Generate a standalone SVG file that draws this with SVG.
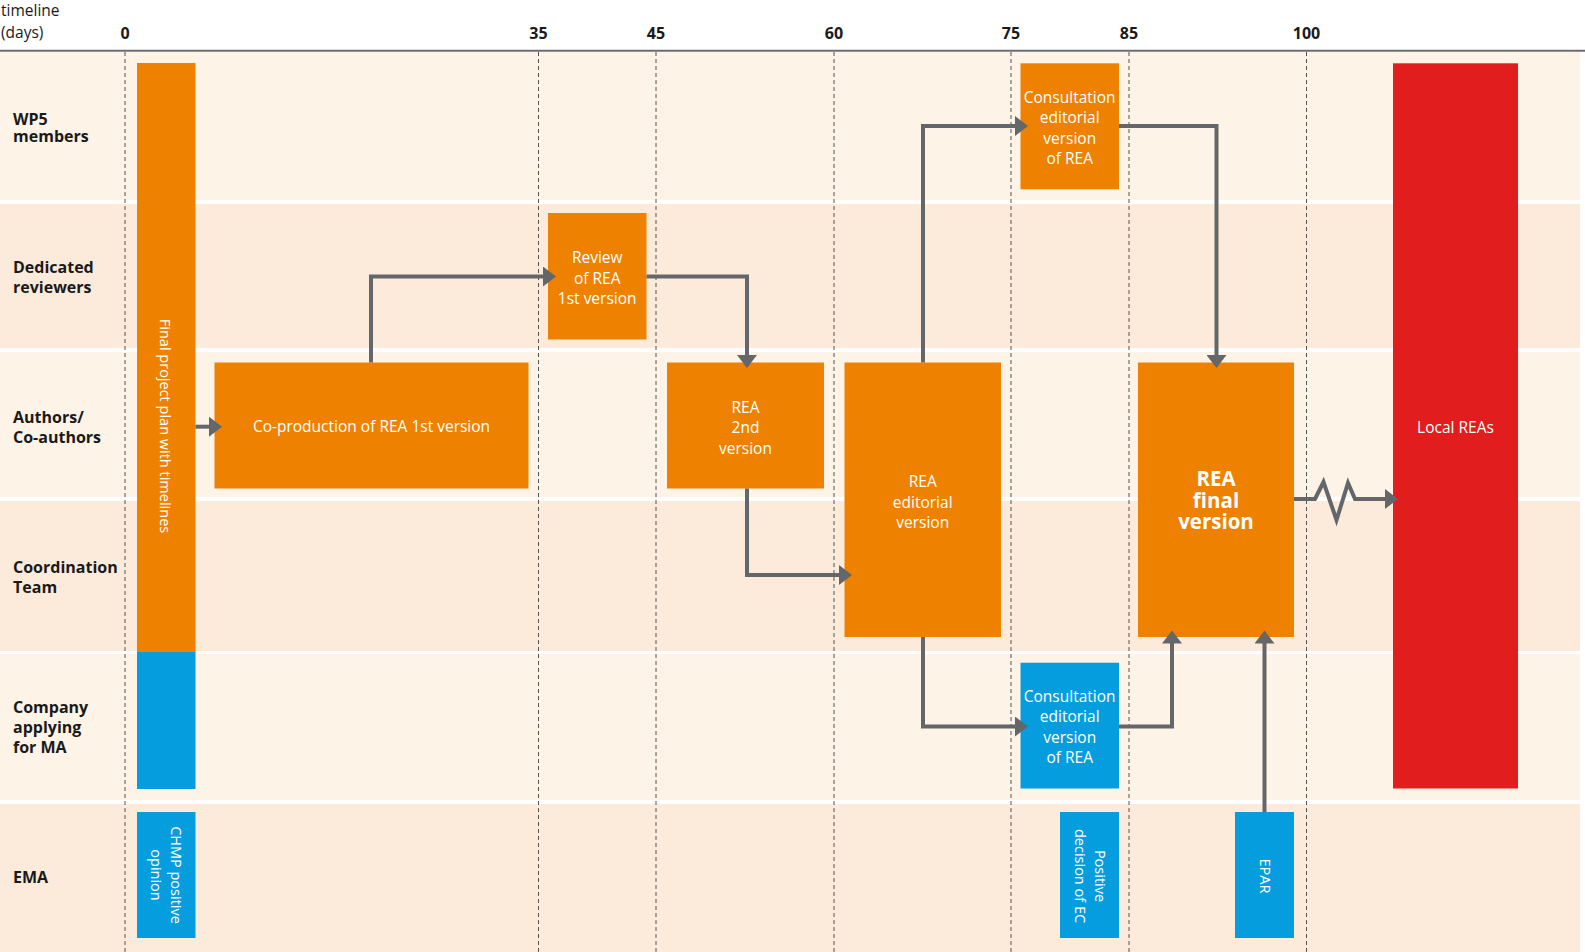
<svg xmlns="http://www.w3.org/2000/svg" width="1585" height="952" viewBox="0 0 1585 952">
<defs>
<style>
.bgL{fill:#fdf3e7}
.bgD{fill:#fcebda}
.lane{font-family:"Open Sans","Noto Sans",sans-serif;font-weight:bold;font-size:16px;fill:#1a1a1a}
.hdr{font-family:"Open Sans","Noto Sans",sans-serif;font-size:15.5px;fill:#1a1a1a}
.tick{font-family:"Open Sans","Noto Sans",sans-serif;font-weight:bold;font-size:16px;fill:#1a1a1a;text-anchor:middle}
.grid{stroke:#555;stroke-width:1;stroke-dasharray:4 3;fill:none}
.or{fill:#ee8200}
.bl{fill:#069ddf}
.rd{fill:#e21d1d}
.t{font-family:"Open Sans","Noto Sans",sans-serif;font-size:15.5px;fill:#fff;text-anchor:middle}
.tr{font-family:"Open Sans","Noto Sans",sans-serif;font-size:14.5px;fill:#fff;text-anchor:middle}
.tb{font-family:"Open Sans","Noto Sans",sans-serif;font-size:20.5px;font-weight:bold;fill:#fff;text-anchor:middle}
.c{stroke:#646769;stroke-width:4;fill:none;marker-end:url(#ah)}
</style>
<marker id="ah" viewBox="0 0 13 20" markerWidth="13" markerHeight="20" refX="6" refY="10" orient="auto" markerUnits="userSpaceOnUse">
<path d="M0,0 L13,10 L0,20 Z" fill="#646769"/>
</marker>
</defs>

<g id="background">
<rect x="0" y="0" width="1585" height="952" fill="#fff"/>
<rect class="bgL" x="0" y="52" width="1580" height="148"/>
<rect class="bgD" x="0" y="204" width="1580" height="144"/>
<rect class="bgL" x="0" y="352" width="1580" height="145"/>
<rect class="bgD" x="0" y="501" width="1580" height="150"/>
<rect class="bgL" x="0" y="654" width="1580" height="146"/>
<rect class="bgD" x="0" y="804" width="1580" height="148"/>
</g>

<g id="header">
<text class="hdr" x="1" y="16">timeline</text>
<text class="hdr" x="1" y="38">(days)</text>
<line x1="0" y1="50.7" x2="1585" y2="50.7" stroke="#6d6d6d" stroke-width="2"/>
<text class="tick" x="125" y="39">0</text>
<text class="tick" x="538.5" y="39">35</text>
<text class="tick" x="656" y="39">45</text>
<text class="tick" x="834" y="39">60</text>
<text class="tick" x="1011" y="39">75</text>
<text class="tick" x="1129" y="39">85</text>
<text class="tick" x="1306.5" y="39">100</text>
</g>

<g id="grid">
<line class="grid" x1="125" y1="52" x2="125" y2="952"/>
<line class="grid" x1="538.5" y1="52" x2="538.5" y2="952"/>
<line class="grid" x1="656" y1="52" x2="656" y2="952"/>
<line class="grid" x1="834" y1="52" x2="834" y2="952"/>
<line class="grid" x1="1011" y1="52" x2="1011" y2="952"/>
<line class="grid" x1="1129" y1="52" x2="1129" y2="952"/>
<line class="grid" x1="1306.5" y1="52" x2="1306.5" y2="952"/>
</g>

<g id="lanes">
<text class="lane" x="13" y="125">WP5</text>
<text class="lane" x="13" y="142">members</text>
<text class="lane" x="13" y="273">Dedicated</text>
<text class="lane" x="13" y="293">reviewers</text>
<text class="lane" x="13" y="423">Authors/</text>
<text class="lane" x="13" y="443">Co-authors</text>
<text class="lane" x="13" y="572.5">Coordination</text>
<text class="lane" x="13" y="593">Team</text>
<text class="lane" x="13" y="713">Company</text>
<text class="lane" x="13" y="733">applying</text>
<text class="lane" x="13" y="753">for MA</text>
<text class="lane" x="13" y="883">EMA</text>
</g>

<g id="final-project-plan">
<rect class="or" x="137" y="63" width="58.5" height="589"/>
<rect class="bl" x="137" y="652" width="58.5" height="137"/>
<text class="tr" transform="translate(164.5,426) rotate(90)" y="5">Final project plan with timelines</text>
</g>

<g id="chmp-opinion">
<rect class="bl" x="137" y="812" width="58.5" height="126"/>
<text class="tr" transform="translate(166,875) rotate(90)"><tspan x="0" y="-5">CHMP positive</tspan><tspan x="0" y="15">opinion</tspan></text>
</g>

<g id="co-production">
<rect class="or" x="214.5" y="362.5" width="314" height="126"/>
<text class="t" x="371.5" y="432">Co-production of REA 1st version</text>
</g>

<g id="review-1st">
<rect class="or" x="548" y="213" width="98.5" height="126.5"/>
<text class="t" x="597.2" y="263">Review</text>
<text class="t" x="597.2" y="283.5">of REA</text>
<text class="t" x="597.2" y="304">1st version</text>
</g>

<g id="rea-2nd">
<rect class="or" x="667" y="362.5" width="157" height="126"/>
<text class="t" x="745.5" y="412.5">REA</text>
<text class="t" x="745.5" y="433">2nd</text>
<text class="t" x="745.5" y="453.5">version</text>
</g>

<g id="rea-editorial">
<rect class="or" x="844.5" y="362.5" width="156.5" height="274.5"/>
<text class="t" x="922.7" y="487">REA</text>
<text class="t" x="922.7" y="507.5">editorial</text>
<text class="t" x="922.7" y="528">version</text>
</g>

<g id="consult-wp5">
<rect class="or" x="1020.5" y="63.3" width="98.5" height="126"/>
<text class="t" x="1069.7" y="102.5">Consultation</text>
<text class="t" x="1069.7" y="123">editorial</text>
<text class="t" x="1069.7" y="143.5">version</text>
<text class="t" x="1069.7" y="164">of REA</text>
</g>

<g id="rea-final">
<rect class="or" x="1138" y="362.5" width="156" height="274.5"/>
<text class="tb" x="1216" y="486">REA</text>
<text class="tb" x="1216" y="507.5">final</text>
<text class="tb" x="1216" y="529">version</text>
</g>

<g id="consult-company">
<rect class="bl" x="1020.5" y="662.7" width="98.5" height="125.8"/>
<text class="t" x="1069.7" y="701.5">Consultation</text>
<text class="t" x="1069.7" y="722">editorial</text>
<text class="t" x="1069.7" y="742.5">version</text>
<text class="t" x="1069.7" y="763">of REA</text>
</g>

<g id="ec-decision">
<rect class="bl" x="1060" y="812" width="59" height="126"/>
<text class="tr" transform="translate(1089.5,876) rotate(90)"><tspan x="0" y="-5">Positive</tspan><tspan x="0" y="15">decision of EC</tspan></text>
</g>

<g id="epar">
<rect class="bl" x="1235" y="812" width="59" height="126"/>
<text class="tr" transform="translate(1264.5,876) rotate(90)" y="5">EPAR</text>
</g>

<g id="local-reas">
<rect class="rd" x="1393" y="63.3" width="125" height="725.2"/>
<text class="t" x="1455.5" y="433">Local REAs</text>
</g>

<g id="connectors">
<path class="c" d="M195.5,426.7 H215"/>
<path class="c" d="M371,362.5 V276.5 H549"/>
<path class="c" d="M646.5,276.5 H747 V361"/>
<path class="c" d="M747,488.5 V575 H845"/>
<path class="c" d="M923,362.5 V126 H1021"/>
<path class="c" d="M1119,126 H1216.5 V361"/>
<path class="c" d="M923,637 V726.5 H1021"/>
<path class="c" d="M1119,726.5 H1172 V637.5"/>
<path class="c" d="M1264.5,812 V637.5"/>
<path class="c" d="M1294,499 H1315 L1323.5,482 L1336.5,520 L1348,483 L1355,499 H1391"/>
</g>
</svg>
